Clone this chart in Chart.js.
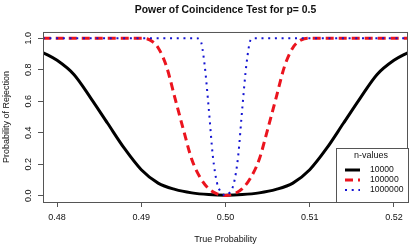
<!DOCTYPE html>
<html>
<head>
<meta charset="utf-8">
<script src="https://cdn.jsdelivr.net/npm/chart.js@4"></script>
<style>
  html, body { margin: 0; padding: 0; background: #fff; }
  #wrap { width: 411px; height: 250px; }
</style>
</head>
<body>
<div id="wrap"><canvas id="chart" width="411" height="250"></canvas></div>
<script>
// Values
const xTicks = [0.48, 0.49, 0.50, 0.51, 0.52];
const yTicks = [0.0, 0.2, 0.4, 0.6, 0.8, 1.0];

const xN1 = [0.4783, 0.480, 0.482, 0.484, 0.486, 0.488, 0.490, 0.492, 0.494, 0.496, 0.498, 0.500,
             0.502, 0.504, 0.506, 0.508, 0.510, 0.512, 0.514, 0.516, 0.518, 0.520, 0.5217];
const powerN1 = [0.91, 0.86, 0.77, 0.62, 0.46, 0.30, 0.165, 0.08, 0.04, 0.018, 0.007, 0.003,
                 0.007, 0.018, 0.04, 0.08, 0.165, 0.30, 0.46, 0.62, 0.77, 0.86, 0.91];

const xN2 = [0.4783, 0.490, 0.491, 0.492, 0.493, 0.494, 0.495, 0.496, 0.497, 0.498, 0.499, 0.500,
             0.501, 0.502, 0.503, 0.504, 0.505, 0.506, 0.507, 0.508, 0.509, 0.510, 0.5217];
const powerN2 = [1, 1, 0.99, 0.94, 0.82, 0.62, 0.42, 0.23, 0.115, 0.045, 0.012, 0.002,
                 0.012, 0.045, 0.115, 0.23, 0.42, 0.62, 0.82, 0.94, 0.99, 1, 1];

const xN3 = [0.4783, 0.4965, 0.497, 0.4975, 0.498, 0.4985, 0.499, 0.4995, 0.500,
             0.5005, 0.501, 0.5015, 0.502, 0.5025, 0.503, 0.5035, 0.5217];
const powerN3 = [1, 1, 0.99, 0.84, 0.56, 0.25, 0.08, 0.02, 0.003,
                 0.02, 0.08, 0.25, 0.56, 0.84, 0.99, 1, 1];

const seriesLabels = ['10000', '100000', '1000000'];

const FONT = "'Liberation Sans', Arial, Helvetica, sans-serif";
const pts = (xs, ys) => xs.map((x, i) => ({ x: x, y: ys[i] }));

// box, rotated y tick labels and the legend, R style
const rStyle = {
  id: 'rStyle',
  afterDraw(chart) {
    const ctx = chart.ctx;
    const a = chart.chartArea;
    ctx.save();
    ctx.strokeStyle = '#555';
    ctx.lineWidth = 1;
    ctx.strokeRect(a.left + 0.5, a.top + 0.5, a.right - a.left - 1, a.bottom - a.top);

    // y tick labels, reading bottom to top
    const ys = chart.scales.y;
    ctx.fillStyle = '#111';
    ctx.font = '9px ' + FONT;
    ctx.textAlign = 'center';
    ctx.textBaseline = 'middle';
    ys.ticks.forEach(t => {
      ctx.save();
      ctx.translate(28.5, ys.getPixelForValue(t.value));
      ctx.rotate(-Math.PI / 2);
      ctx.fillText(t.value.toFixed(1), 0, 0);
      ctx.restore();
    });

    // legend at bottom right
    const w = 72, h = 54;
    const lx = a.right - w, ly = a.bottom - h;
    ctx.fillStyle = '#fff';
    ctx.fillRect(lx, ly, w, h);
    ctx.strokeStyle = '#555';
    ctx.strokeRect(lx + 0.5, ly + 0.5, w, h);
    ctx.fillStyle = '#111';
    ctx.font = '9px ' + FONT;
    ctx.fillText('n-values', lx + w / 2 - 1, ly + 8);
    ctx.textAlign = 'left';
    ctx.font = '8.6px ' + FONT;
    chart.data.datasets.forEach((ds, i) => {
      const yy = ly + 22 + i * 10;
      ctx.save();
      ctx.strokeStyle = ds.borderColor;
      ctx.lineWidth = ds.borderWidth;
      ctx.setLineDash(ds.borderDash || []);
      ctx.beginPath();
      ctx.moveTo(lx + 9, yy);
      ctx.lineTo(lx + 24, yy);
      ctx.stroke();
      ctx.restore();
      ctx.fillText(ds.label, lx + 34, yy);
    });
    ctx.restore();
  }
};

new Chart(document.getElementById('chart'), {
  type: 'line',
  data: {
    datasets: [
      { label: seriesLabels[0], data: pts(xN1, powerN1), borderColor: '#000', borderWidth: 3, order: 3 },
      { label: seriesLabels[1], data: pts(xN2, powerN2), borderColor: 'rgb(235,20,30)', borderWidth: 3, borderDash: [8, 5], order: 2 },
      { label: seriesLabels[2], data: pts(xN3, powerN3), borderColor: '#1414d2', borderWidth: 2, borderDash: [2, 4.7], order: 1 }
    ]
  },
  options: {
    responsive: false,
    animation: false,
    devicePixelRatio: 1,
    layout: { padding: { left: 0, right: 3, top: 0, bottom: 0 } },
    elements: {
      point: { radius: 0 },
      line: { cubicInterpolationMode: 'monotone', fill: false }
    },
    plugins: {
      legend: { display: false },
      tooltip: { enabled: false },
      title: {
        display: true,
        text: 'Power of Coincidence Test for p= 0.5',
        fullSize: false,
        color: '#111',
        font: { family: FONT, size: 10.4, weight: 'bold' },
        padding: { top: 4.3, bottom: 15.2 }
      }
    },
    scales: {
      x: {
        type: 'linear',
        min: 0.47833,
        max: 0.52167,
        afterBuildTicks: s => { s.ticks = xTicks.map(v => ({ value: v })); },
        afterFit: s => { s.height = 48; },
        grid: { drawOnChartArea: false, drawTicks: true, tickLength: 5, color: '#555' },
        border: { display: false },
        ticks: {
          color: '#111',
          font: { family: FONT, size: 9 },
          padding: 5,
          maxRotation: 0,
          callback: v => v.toFixed(2)
        },
        title: {
          display: true,
          text: 'True Probability',
          color: '#111',
          font: { family: FONT, size: 9 },
          padding: { top: 0, bottom: 4.6 }
        }
      },
      y: {
        type: 'linear',
        min: -0.04,
        max: 1.04,
        afterBuildTicks: s => { s.ticks = yTicks.map(v => ({ value: v })); },
        afterFit: s => { s.width = 43; },
        grid: { drawOnChartArea: false, drawTicks: true, tickLength: 5, color: '#555' },
        border: { display: false },
        ticks: { display: false },
        title: {
          display: true,
          text: 'Probability of Rejection',
          color: '#111',
          font: { family: FONT, size: 9 },
          padding: { top: 1.6, bottom: 0 }
        }
      }
    }
  },
  plugins: [rStyle]
});
</script>
</body>
</html>
